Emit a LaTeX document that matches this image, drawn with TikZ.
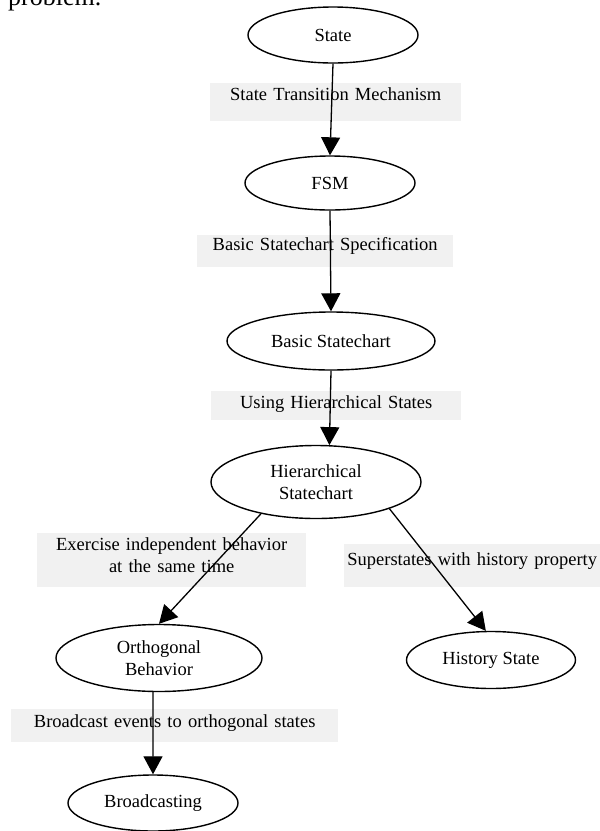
\documentclass[tikz,border=0pt]{standalone}
\usepackage{fontspec}
\setmainfont{Liberation Serif}
\usetikzlibrary{shapes.geometric,arrows.meta}
\definecolor{lbl}{RGB}{241,241,241}

\begin{document}
\begin{tikzpicture}[x=1pt,y=-1pt,
        statenode/.style={ellipse,draw,line width=1.4pt,inner sep=0pt,align=center,font=\fontsize{18.5}{22}\selectfont},
        translabel/.style={fill=lbl,inner sep=0pt,anchor=north west,align=center,font=\fontsize{18.5}{22}\selectfont},
        trans/.style={line width=1.3pt,-{Triangle[length=18pt,width=19pt]}}]
        \useasboundingbox (0,0) rectangle (600,831);
        \clip (0,0) rectangle (600,831);
        \node[anchor=base west,inner sep=0pt,font=\fontsize{26}{30}\selectfont] (prob) at (8,5) {problem.};
        % transition labels
        \node[translabel,text width=251pt,text height=17pt,text depth=21pt] (l1) at (210,83) {State Transition Mechanism};
        \node[translabel,text width=256pt,text height=15pt,text depth=17pt] (l2) at (197,235) {Basic Statechart Specification};
        \node[translabel,text width=250pt,text height=17pt,text depth=12pt] (l3) at (211,391) {Using Hierarchical States};
        \node[translabel,text width=269pt,text height=17pt,text depth=37pt] (l4) at (37,533) {Exercise independent behavior\\at the same time};
        \node[translabel,text width=256pt,text height=21pt,text depth=22pt] (l5) at (344,544) {Superstates with history property};
        \node[translabel,text width=327pt,text height=18pt,text depth=15pt] (l6) at (11,709) {Broadcast events to orthogonal states};
        % states
        \node[statenode,minimum width=170pt,minimum height=56pt] (state) at (333,35) {State};
        \node[statenode,minimum width=170pt,minimum height=54pt] (fsm) at (330,183) {FSM};
        \node[statenode,minimum width=208pt,minimum height=58pt] (basic) at (331,341) {Basic Statechart};
        \node[statenode,minimum width=210pt,minimum height=73pt] (hier) at (316,482) {Hierarchical\\Statechart};
        \node[statenode,minimum width=206pt,minimum height=67pt] (orth) at (159,658) {Orthogonal\\Behavior};
        \node[statenode,minimum width=169pt,minimum height=57pt] (hist) at (491,660) {History State};
        \node[statenode,minimum width=170pt,minimum height=56pt] (broad) at (153,803) {Broadcasting};
        % transitions
        \draw[trans] (state.south) -- (fsm.north);
        \draw[trans] (fsm.south) -- (basic.north);
        \draw[trans] (basic.south) -- (hier.70);
        \draw[trans] (hier.210) -- (orth.north);
        \draw[trans] (hier.340) -- (hist.100);
        \draw[trans] (orth.260) -- (broad.north);
\end{tikzpicture}
\end{document}
